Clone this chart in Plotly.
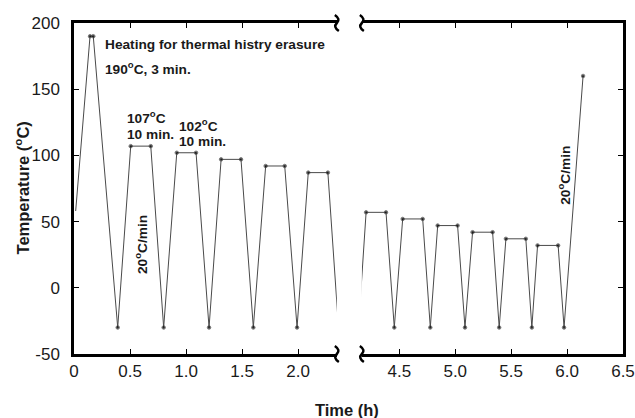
import plotly.graph_objects as go

# ---- data (time in h, temperature in °C) ----
left_time = [0.015, 0.143, 0.172, 0.39, 0.506, 0.685, 0.80, 0.917, 1.089, 1.205,
             1.3125, 1.49, 1.60, 1.71, 1.88, 1.99, 2.09, 2.265, 2.36]
left_temp = [58, 190, 190, -30, 107, 107, -30, 102, 102, -30,
             97, 97, -30, 92, 92, -30, 87, 87, -30]
left_marked = [0, 1, 1, 1, 1, 1, 1, 1, 1, 1, 1, 1, 1, 1, 1, 1, 1, 1, 0]

right_time = [4.135, 4.203, 4.381, 4.455, 4.530, 4.709, 4.777, 4.843, 5.021, 5.087,
              5.155, 5.334, 5.393, 5.453, 5.631, 5.685, 5.736, 5.920, 5.973, 6.143]
right_temp = [-30, 57, 57, -30, 52, 52, -30, 47, 47, -30,
              42, 42, -30, 37, 37, -30, 32, 32, -30, 160]
right_marked = [0, 1, 1, 1, 1, 1, 1, 1, 1, 1, 1, 1, 1, 1, 1, 1, 1, 1, 1, 1]

left_tickvals = [0, 0.5, 1.0, 1.5, 2.0]
left_ticktext = ["0", "0.5", "1.0", "1.5", "2.0"]
right_tickvals = [4.5, 5.0, 5.5, 6.0, 6.5]
right_ticktext = ["4.5", "5.0", "5.5", "6.0", "6.5"]
y_tickvals = [-50, 0, 50, 100, 150, 200]
y_ticktext = ["-50", "0", "50", "100", "150", "200"]

LINE = "#4a4a4a"
TXT = "#1a1a1a"
FONT = "Liberation Sans, Arial, sans-serif"

fig = go.Figure()
fig.add_trace(go.Scatter(
    x=left_time, y=left_temp, mode="lines+markers", xaxis="x", yaxis="y",
    line=dict(color=LINE, width=1),
    marker=dict(size=[3.5 * m for m in left_marked], color="#000"),
    showlegend=False, hoverinfo="skip"))
fig.add_trace(go.Scatter(
    x=right_time, y=right_temp, mode="lines+markers", xaxis="x2", yaxis="y2",
    line=dict(color=LINE, width=1),
    marker=dict(size=[3.5 * m for m in right_marked], color="#000"),
    showlegend=False, hoverinfo="skip"))

W, H = 635, 418
ML, MT = 74, 23
MR = W - 622.7
MB = H - 354
PW, PH = W - ML - MR, H - MT - MB


def px_x(p):  # page pixel -> paper
    return (p - ML) / PW


def px_y(p):
    return (H - MB - p) / PH


d1_end = px_x(336.7)
d2_start = px_x(361.7)

axis_common = dict(showline=True, linewidth=2.5, linecolor="black",
                   ticks="inside", ticklen=5, tickwidth=1, tickcolor="black",
                   showgrid=False, zeroline=False, automargin=False,
                   tickfont=dict(family=FONT, size=17, color=TXT))

fig.update_layout(
    width=W, height=H, margin=dict(l=ML, r=MR, t=MT, b=MB, autoexpand=False),
    paper_bgcolor="white", plot_bgcolor="white",
    xaxis=dict(domain=[0, d1_end], range=[0, 2.345], anchor="y", mirror="ticks",
               tickvals=left_tickvals, ticktext=left_ticktext, **axis_common),
    xaxis2=dict(domain=[d2_start, 1], range=[4.165, 6.5], anchor="y2", mirror="ticks",
                tickvals=right_tickvals, ticktext=right_ticktext, **axis_common),
    yaxis=dict(domain=[0, 1], range=[-50, 200], anchor="x", ticklabelstandoff=8,
               tickvals=y_tickvals, ticktext=y_ticktext, **axis_common),
    yaxis2=dict(domain=[0, 1], range=[-50, 200], anchor="x2", side="right",
                tickvals=y_tickvals, showticklabels=False, **axis_common),
)

ann_font = dict(family=FONT, size=13.7, color=TXT)
annotations = [
    dict(text="<b>Heating for thermal histry erasure</b>", x=0.259, y=184, xref="x", yref="y",
         xanchor="left", yanchor="middle", showarrow=False, font=ann_font),
    dict(text="<b>190<sup>o</sup>C, 3 min.</b>", x=0.259, y=166, xref="x", yref="y",
         xanchor="left", yanchor="middle", showarrow=False, font=ann_font),
    dict(text="<b>107<sup>o</sup>C</b>", x=0.455, y=129, xref="x", yref="y",
         xanchor="left", yanchor="middle", showarrow=False, font=ann_font),
    dict(text="<b>10 min.</b>", x=0.455, y=115.6, xref="x", yref="y",
         xanchor="left", yanchor="middle", showarrow=False, font=ann_font),
    dict(text="<b>102<sup>o</sup>C</b>", x=0.917, y=123, xref="x", yref="y",
         xanchor="left", yanchor="middle", showarrow=False, font=ann_font),
    dict(text="<b>10 min.</b>", x=0.917, y=110.5, xref="x", yref="y",
         xanchor="left", yanchor="middle", showarrow=False, font=ann_font),
    dict(text="<b>20<sup>o</sup>C/min</b>", x=0.6, y=32.5, xref="x", yref="y",
         xanchor="center", yanchor="middle", textangle=-90, showarrow=False, font=ann_font),
    dict(text="<b>20<sup>o</sup>C/min</b>", x=5.977, y=85, xref="x2", yref="y2",
         xanchor="center", yanchor="middle", textangle=-90, showarrow=False, font=ann_font),
    dict(text="<b>Time (h)</b>", x=px_x(347), y=px_y(410), xref="paper", yref="paper",
         xanchor="center", yanchor="middle", showarrow=False,
         font=dict(family=FONT, size=16.5, color=TXT)),
    dict(text="<b>Temperature (<sup>o</sup>C)</b>", x=px_x(22.5), y=px_y(188),
         xref="paper", yref="paper", xanchor="center", yanchor="middle",
         textangle=-90, showarrow=False,
         font=dict(family=FONT, size=16.5, color=TXT)),
]
fig.update_layout(annotations=annotations)


# axis-break marks (small wavy strokes at panel ends)
def brace(px, py):
    pts = [(px - 2, py - 8), (px + 4, py - 4), (px, py), (px - 4, py + 4), (px + 2, py + 8)]
    c = [(px_x(a), px_y(b)) for a, b in pts]
    return (f"M {c[0][0]},{c[0][1]} Q {c[1][0]},{c[1][1]} {c[2][0]},{c[2][1]} "
            f"Q {c[3][0]},{c[3][1]} {c[4][0]},{c[4][1]}")


shapes = []
for bx in (336.7, 361.7):
    for by in (23, 354):
        shapes.append(dict(type="path", xref="paper", yref="paper", path=brace(bx, by),
                           line=dict(color="black", width=2.5)))
fig.update_layout(shapes=shapes)

fig.write_html("out.html",
               config={"displayModeBar": False},
               post_script="document.body.style.margin='0px';"
                           "document.body.style.overflow='hidden';")
